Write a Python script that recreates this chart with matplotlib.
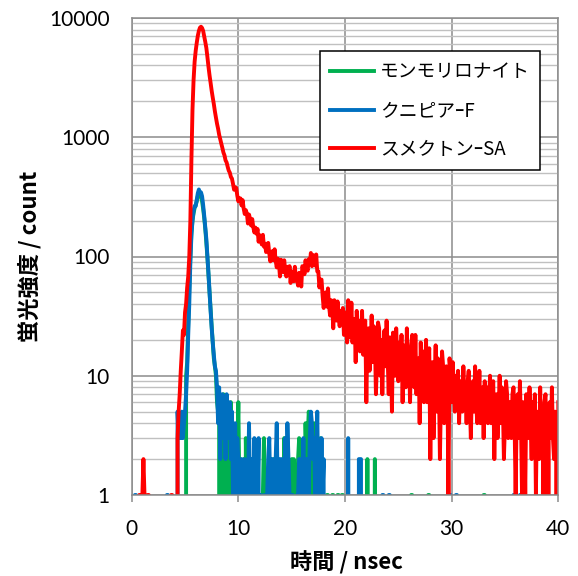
import numpy as np
import matplotlib
matplotlib.use('Agg')
import matplotlib.pyplot as plt
from matplotlib.ticker import LogLocator, NullFormatter
from matplotlib.font_manager import FontProperties

plt.rcParams['path.simplify'] = False

# fluorescence decay, 0.1 ns channels from 0 to 40 ns
dt = 0.1
n_ch = 401

names = ['モンモリロナイト', 'クニピアｰF', 'スメクトンｰSA']
colors = ['#00B050', '#0070C0', '#FF0000']

# スメクトンｰSA, counts from 4.0 ns to 40.0 ns
red_start = 4.0
red_counts = [
    0, 0, 0, 3, 5, 7, 11, 16, 24, 22,
    34, 40, 55, 68, 100, 200, 650, 1700, 3000, 4300,
    5300, 6200, 7100, 7800, 8300, 8450, 8250, 7800, 7000, 6300,
    5600, 4700, 3900, 3300, 2850, 2450, 2150, 1900, 1650, 1460,
    1300, 1180, 1050, 965, 885, 815, 745, 705, 640, 615,
    565, 525, 505, 465, 450, 406, 363, 380, 376, 324,
    290, 308, 307, 268, 297, 252, 227, 245, 229, 189,
    225, 207, 182, 206, 176, 159, 175, 155, 170, 133,
    151, 140, 126, 152, 121, 128, 109, 127, 130, 106,
    91, 107, 111, 93, 115, 92, 81, 96, 89, 68,
    94, 87, 74, 93, 76, 68, 82, 72, 83, 60,
    75, 70, 62, 82, 63, 65, 57, 73, 71, 56,
    83, 79, 71, 93, 80, 76, 95, 87, 107, 83,
    103, 96, 84, 104, 75, 75, 55, 64, 64, 47,
    37, 47, 50, 38, 54, 39, 32, 43, 39, 25,
    43, 37, 29, 42, 32, 26, 35, 28, 37, 22,
    34, 29, 19, 43, 21, 22, 41, 19, 26, 30,
    13, 35, 20, 29, 16, 21, 35, 15, 26, 29,
    6, 21, 25, 11, 17, 32, 13, 26, 21, 7,
    14, 28, 25, 10, 20, 7, 18, 24, 12, 29,
    14, 7, 21, 16, 5, 23, 18, 10, 25, 13,
    9, 19, 12, 22, 6, 18, 14, 8, 25, 9,
    15, 6, 18, 22, 10, 8, 22, 7, 12, 14,
    4, 19, 9, 16, 6, 9, 20, 6, 13, 17,
    2, 10, 13, 3, 8, 18, 5, 14, 10, 2,
    7, 16, 12, 4, 10, 12, 9, 1, 14, 11,
    6, 13, 8, 5, 10, 7, 11, 4, 9, 8,
    5, 12, 6, 8, 4, 9, 11, 6, 3, 8,
    9, 5, 12, 6, 4, 5, 11, 4, 7, 8,
    3, 9, 5, 8, 4, 6, 10, 4, 7, 9,
    2, 6, 7, 3, 5, 10, 4, 8, 6, 2,
    4, 9, 7, 3, 6, 6, 3, 7, 8, 4,
    1, 5, 7, 3, 9, 4, 1, 6, 5, 1,
    7, 5, 3, 8, 4, 2, 6, 4, 7, 1,
    5, 4, 2, 8, 3, 5, 1, 6, 7, 3,
    0, 4, 6, 3, 8, 3, 2, 5, 4, 0,
    6,
]
red_extra = {0.7: 1, 0.8: 1, 1.0: 1, 1.1: 2, 1.2: 1, 1.5: 1, 1.6: 1,
             3.7: 1, 3.8: 1}

# クニピアｰF, counts from 4.0 ns to 18.2 ns
blue_start = 4.0
blue_counts = [
    0, 0, 0, 5, 3, 4, 3, 5, 3, 4,
    5, 7, 11, 22, 40, 90, 150, 200, 240, 265,
    265, 300, 340, 365, 340, 345, 320, 270, 220, 175,
    140, 100, 72, 50, 35, 25, 19, 15, 12, 11,
    8, 4, 8, 2, 6, 7, 3, 5, 2, 7,
    3, 4, 6, 2, 5, 1, 3, 4, 1, 3,
    2, 0, 1, 2, 1, 0, 2, 1, 0, 1,
    4, 1, 0, 2, 1, 3, 0, 1, 1, 3,
    0, 1, 0, 0, 1, 0, 0, 1, 2, 3,
    1, 1, 2, 0, 1, 2, 4, 1, 1, 2,
    0, 2, 1, 1, 3, 1, 4, 2, 1, 0,
    1, 1, 0, 0, 0, 1, 1, 2, 2, 1,
    1, 3, 1, 2, 1, 2, 1, 3, 5, 4,
    2, 3, 1, 2, 5, 1, 2, 1, 3, 1,
    2, 0, 0,
]
blue_extra = {0.3: 1, 0.4: 1, 3.3: 1, 3.4: 1, 20.3: 3, 21.3: 2, 21.4: 2,
              21.5: 2, 23.5: 1, 23.6: 1, 24.1: 1, 24.2: 1, 29.8: 1, 29.9: 1,
              30.4: 1, 30.5: 1, 35.8: 1, 35.9: 1, 36.4: 1, 36.5: 1}

# モンモリロナイト, counts from 4.0 ns to 18.5 ns
green_start = 4.0
green_counts = [
    0, 0, 0, 0, 0, 0, 0, 0, 0, 0,
    0, 10, 13, 28, 55, 100, 160, 200, 230, 255,
    270, 290, 320, 330, 335, 320, 290, 250, 210, 170,
    130, 98, 70, 50, 36, 26, 19, 14, 12, 10,
    6, 5, 7, 0, 6, 2, 7, 1, 4, 0,
    5, 3, 1, 6, 2, 3, 0, 2, 1, 2,
    6, 1, 2, 0, 1, 2, 0, 3, 1, 2,
    1, 2, 0, 0, 1, 0, 1, 0, 0, 1,
    1, 0, 0, 1, 3, 1, 0, 0, 1, 0,
    0, 1, 0, 2, 0, 1, 0, 0, 1, 1,
    0, 1, 0, 3, 1, 0, 1, 2, 1, 1,
    2, 1, 2, 1, 0, 1, 2, 3, 1, 2,
    1, 2, 1, 4, 2, 3, 5, 4, 2, 3,
    1, 4, 2, 1, 2, 1, 2, 3, 1, 0,
    1, 0, 0, 1, 1, 0,
]
green_extra = {18.8: 1, 18.9: 1, 19.3: 1, 19.4: 1, 19.7: 1, 19.8: 1,
               22.1: 2, 22.8: 2, 26.2: 1, 26.3: 1, 27.8: 1, 27.9: 1,
               33.0: 1, 33.1: 1, 38.6: 1, 38.7: 1}

xticks = [0, 10, 20, 30, 40]
yticks = [1, 10, 100, 1000, 10000]
ytick_labels = ['1', '10', '100', '1000', '10000']


def channels(start, counts, extra):
    y = np.zeros(n_ch)
    i0 = int(round(start / dt))
    y[i0:i0 + len(counts)] = counts
    for t, v in extra.items():
        y[int(round(t / dt))] = v
    return y


time = np.arange(n_ch) * dt
data = [channels(green_start, green_counts, green_extra),
        channels(blue_start, blue_counts, blue_extra),
        channels(red_start, red_counts, red_extra)]

fig = plt.figure(figsize=(5.78, 5.76), dpi=100)
ax = fig.add_axes([131.7 / 578, 1 - 495 / 576, 426.6 / 578, 477 / 576])

for y, name, c in zip(data, names, colors):
    ax.plot(time, y, color=c, lw=2.8, label=name, solid_joinstyle='round')

ax.set_yscale('log', nonpositive='clip')
ax.set_xlim(0, 40)
ax.set_ylim(1, 10000)
ax.set_xticks(xticks)
ax.set_yticks(yticks)
ax.set_yticklabels(ytick_labels)
ax.yaxis.set_minor_locator(LogLocator(base=10, subs=range(2, 10)))
ax.yaxis.set_minor_formatter(NullFormatter())

ax.set_axisbelow(True)
ax.grid(which='major', color='#8C8C8C', lw=1.1)
ax.grid(which='minor', axis='y', color='#C0C0C0', lw=1.0)
for s in ax.spines.values():
    s.set_color('#8C8C8C')
    s.set_linewidth(1.1)

tick_font = FontProperties(family='Lato', size=15)
ax.tick_params(axis='y', which='both', length=0, pad=16)
ax.tick_params(axis='x', length=5, width=1.1, color='#8C8C8C', pad=12)
for lab in ax.get_xticklabels() + ax.get_yticklabels():
    lab.set_fontproperties(tick_font)

label_font = FontProperties(family='Noto Sans CJK JP', size=16, weight='bold')
fig.text(346 / 578, 1 - 563 / 576, '時間 / nsec', ha='center', va='center',
         fontproperties=label_font)
fig.text(30 / 578, 1 - 256 / 576, '蛍光強度 / count', ha='center', va='center',
         rotation=90, fontproperties=label_font)

leg = ax.legend(loc='upper left', bbox_to_anchor=(320 / 578, 1 - 51 / 576),
                bbox_transform=fig.transFigure,
                prop=FontProperties(family='Noto Sans CJK JP', size=13.5),
                frameon=True, fancybox=False, edgecolor='black', framealpha=1,
                borderpad=0.55, labelspacing=0.95, handlelength=2.35,
                handletextpad=0.3, borderaxespad=0)
leg.get_frame().set_linewidth(1.1)

fig.savefig('out.png', dpi=100)
